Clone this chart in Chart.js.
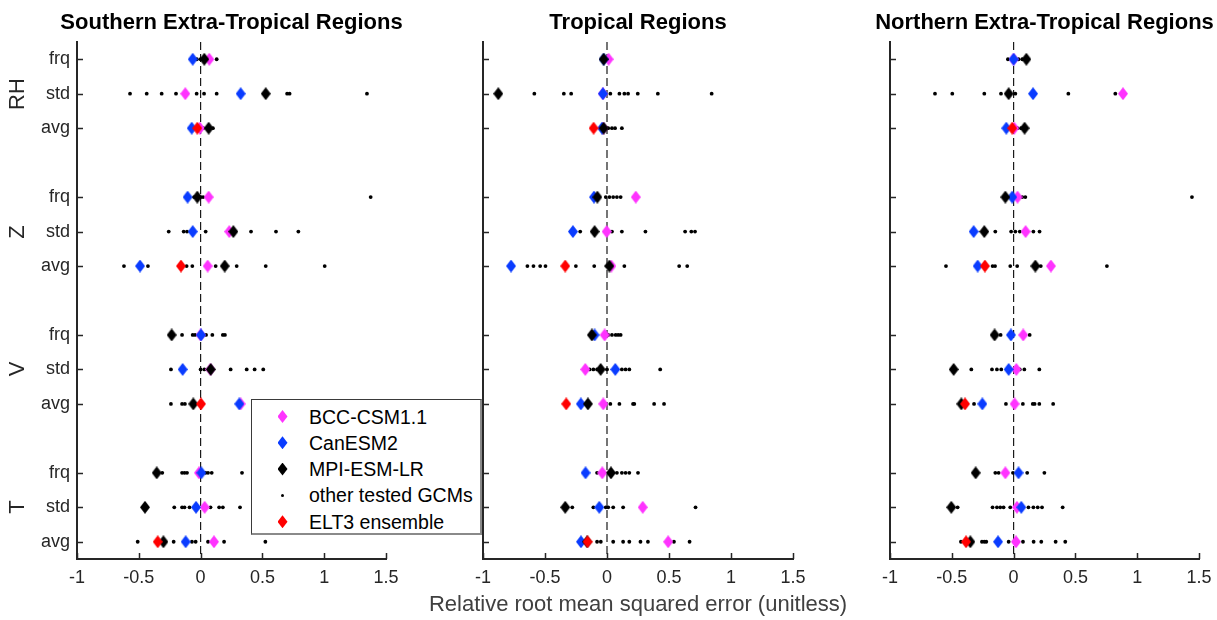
<!DOCTYPE html>
<html><head><meta charset="utf-8">
<script src="https://cdn.jsdelivr.net/npm/chart.js@4.4.1/dist/chart.umd.min.js"></script>
<style>
html,body{margin:0;padding:0;background:#fff;}
body{width:1217px;height:620px;position:relative;overflow:hidden;font-family:"Liberation Sans",Arial,Helvetica,sans-serif;}
canvas.pane{position:absolute;top:0;}
.title{position:absolute;top:10px;line-height:24px;font-weight:bold;font-size:22px;color:#000;white-space:nowrap;transform:translateX(-50%);}
.glabel{position:absolute;font-size:22px;color:#262626;line-height:22px;white-space:nowrap;transform:translate(-50%,-50%) rotate(-90deg);}
.xlabel{position:absolute;left:638px;top:592px;line-height:24px;font-size:22px;color:#404040;white-space:nowrap;transform:translateX(-50%);}
#legend{position:absolute;left:251px;top:399px;width:228px;height:133px;border:1px solid #3a3a3a;border-right:2px solid #8a8a8a;border-bottom:2px solid #8a8a8a;background:#fff;}
.lrow{position:absolute;left:0;height:24px;line-height:24px;font-size:19.5px;color:#000;white-space:nowrap;}
.lrow span{position:absolute;left:57px;top:-12px;}
.lsym{position:absolute;}
</style>
</head><body>
<canvas id="c1" class="pane" width="408" height="620" style="left:0px"></canvas>
<canvas id="c2" class="pane" width="407" height="620" style="left:408px"></canvas>
<canvas id="c3" class="pane" width="406" height="620" style="left:815px"></canvas>
<div id="overlay"></div>
<div id="legend"></div>
<script>
// ---------------- data ----------------
const rowNames = ['frq','std','avg','frq','std','avg','frq','std','avg','frq','std','avg'];
const rowPos = [1,2,3,5,6,7,9,10,11,13,14,15];
const groupNames = ['RH','Z','V','T'];
const groupPos = [2,6,10,14];
const xTicks = [-1,-0.5,0,0.5,1,1.5];
const xTickLabels = ['-1','-0.5','0','0.5','1','1.5'];
const panelTitles = ['Southern Extra-Tropical Regions','Tropical Regions','Northern Extra-Tropical Regions'];
const xAxisTitle = 'Relative root mean squared error (unitless)';
const seriesNames = ['BCC-CSM1.1','CanESM2','MPI-ESM-LR','other tested GCMs','ELT3 ensemble'];

// Southern Extra-Tropical
const setBCC = [0.07,-0.124,-0.005, 0.065,0.232,0.057, 0.0,0.08,0.324, -0.013,0.033,0.108];
const setCan = [-0.064,0.324,-0.072, -0.105,-0.064,-0.49, 0.003,-0.145,0.313, 0.006,-0.037,-0.121];
const setMPI = [0.03,0.527,0.065, -0.027,0.265,0.195, -0.234,0.082,-0.059, -0.355,-0.45,-0.301];
const setELT = [null,null,-0.027, null,null,-0.159, null,null,0.003, null,null,-0.347];
const setOther = [
  [-0.03,0.0,0.05,0.13],
  [-0.571,-0.436,-0.315,-0.199,-0.032,0.028,0.13,0.70,0.72,1.346],
  [-0.04,0.02,0.10],
  [-0.05,0.0,0.02,1.376],
  [-0.258,-0.137,-0.11,0.041,0.408,0.61,0.791],
  [-0.62,-0.426,-0.113,-0.067,0.122,0.292,0.527,1.004],
  [-0.15,-0.064,-0.045,0.044,0.095,0.18,0.197],
  [-0.24,0.0,0.03,0.243,0.373,0.437,0.507],
  [-0.24,-0.15,-0.127],
  [-0.31,-0.15,-0.13,-0.11,0.04,0.06,0.09,0.335],
  [-0.213,-0.15,-0.13,-0.09,0.08,0.15,0.18,0.319],
  [-0.509,-0.218,-0.07,-0.04,0.06,0.19,0.524]
];

// Tropical
const troBCC = [0.013,-0.033,-0.03, 0.232,-0.003,0.035, -0.019,-0.175,-0.03, -0.038,0.288,0.493];
const troCan = [-0.027,-0.033,-0.04, -0.105,-0.275,-0.774, -0.1,0.067,-0.211, -0.173,-0.062,-0.21];
const troMPI = [-0.027,-0.877,-0.027, -0.078,-0.1,0.019, -0.122,-0.051,-0.154, 0.032,-0.337,-0.16];
const troELT = [null,null,-0.108, null,null,-0.337, null,null,-0.329, null,null,-0.157];
const troOther = [
  [-0.01,0.01],
  [-0.586,-0.348,-0.289,0.027,0.10,0.14,0.17,0.248,0.41,0.844],
  [0.01,0.04,0.065,0.12],
  [-0.01,0.02,0.05,0.08,0.11],
  [-0.29,-0.216,0.04,0.12,0.31,0.63,0.68,0.71],
  [-0.642,-0.593,-0.539,-0.496,-0.251,-0.103,0.0,0.14,0.582,0.647],
  [0.01,0.04,0.07,0.09,0.11],
  [-0.14,-0.11,-0.08,0.0,0.12,0.15,0.18,0.429],
  [0.027,0.10,0.21,0.22,0.38,0.46],
  [-0.08,0.08,0.12,0.15,0.18,0.25],
  [-0.28,-0.11,-0.01,0.01,0.05,0.13,0.714],
  [-0.18,-0.08,-0.05,0.05,0.13,0.18,0.27,0.33,0.54,0.666]
];

// Northern Extra-Tropical
const netBCC = [0.0,0.885,0.005, 0.032,0.097,0.302, 0.078,0.022,0.008, -0.067,0.027,0.019];
const netCan = [0.0,0.157,-0.059, -0.011,-0.323,-0.291, -0.022,-0.04,-0.253, 0.04,0.062,-0.126];
const netMPI = [0.103,-0.04,0.089, -0.067,-0.237,0.176, -0.154,-0.485,-0.423, -0.307,-0.504,-0.35];
const netELT = [null,null,-0.011, null,null,-0.232, null,null,-0.393, null,null,-0.385];
const netOther = [
  [-0.046,0.04,0.07],
  [-0.636,-0.496,-0.237,-0.102,0.014,0.443,0.823],
  [0.03,0.06],
  [0.07,0.095,1.443],
  [-0.148,-0.02,0.014,0.05,0.16,0.21],
  [-0.547,-0.17,-0.15,-0.027,0.029,0.22,0.755],
  [-0.105,0.13],
  [-0.342,-0.175,-0.135,-0.1,0.05,0.087,0.208],
  [-0.32,-0.062,0.075,0.155,0.17,0.208,0.32],
  [-0.148,-0.121,-0.005,0.11,0.249],
  [-0.453,-0.17,-0.135,-0.108,-0.081,-0.027,0.12,0.16,0.195,0.23,0.397],
  [-0.426,-0.256,-0.237,-0.221,-0.04,0.076,0.162,0.224,0.34,0.418]
];

// ---------------- styling ----------------
const COL = {bcc:'#ff33ff', can:'#0a3cff', mpi:'#000000', elt:'#ff0000', other:'#000000', axis:'#262626'};
Chart.defaults.font.family = '"Liberation Sans", Arial, Helvetica, sans-serif';

function diamond(color){
  const c = document.createElement('canvas');
  c.width = 10; c.height = 13;
  const g = c.getContext('2d');
  g.fillStyle = color;
  g.beginPath(); g.moveTo(5,0); g.lineTo(10,6.5); g.lineTo(5,13); g.lineTo(0,6.5); g.closePath(); g.fill();
  return c;
}
const markers = {bcc:diamond(COL.bcc), can:diamond(COL.can), mpi:diamond(COL.mpi), elt:diamond(COL.elt)};

function toPoints(vals){
  const out = [];
  vals.forEach((v,i)=>{ if(v!==null && v!==undefined) out.push({x:v, y:rowPos[i]}); });
  return out;
}
function otherPoints(rows){
  const out = [];
  rows.forEach((r,i)=> r.forEach(v=> out.push({x:v, y:rowPos[i]})));
  return out;
}

const insideTicks = {
  id:'insideTicks',
  afterDraw(chart){
    const {ctx, chartArea:a, scales:{x,y}} = chart;
    ctx.save();
    ctx.strokeStyle = COL.axis; ctx.lineWidth = 1.5;
    ctx.beginPath();
    y.ticks.forEach(t=>{ const py = Math.round(y.getPixelForValue(t.value))+0.5; ctx.moveTo(a.left, py); ctx.lineTo(a.left+6, py); });
    x.ticks.forEach(t=>{ const px = Math.round(x.getPixelForValue(t.value))+0.5; ctx.moveTo(px, a.bottom); ctx.lineTo(px, a.bottom-6); });
    ctx.stroke();
    ctx.restore();
  }
};

function makePanel(id, yWidth, rightPad, showYLabels, bcc, can, mpi, elt, other){
  const datasets = [
    {label:seriesNames[4], data:toPoints(elt), pointStyle:markers.elt, pointRadius:5, backgroundColor:COL.elt, borderColor:COL.elt},
    {label:seriesNames[2], data:toPoints(mpi), pointStyle:markers.mpi, pointRadius:5, backgroundColor:COL.mpi, borderColor:COL.mpi},
    {label:seriesNames[1], data:toPoints(can), pointStyle:markers.can, pointRadius:5, backgroundColor:COL.can, borderColor:COL.can},
    {label:seriesNames[0], data:toPoints(bcc), pointStyle:markers.bcc, pointRadius:5, backgroundColor:COL.bcc, borderColor:COL.bcc},
    {label:seriesNames[3], data:otherPoints(other), pointStyle:'circle', pointRadius:1.9, borderWidth:0, backgroundColor:COL.other, borderColor:COL.other},
    {label:'zero', data:[{x:0,y:0.5},{x:0,y:15.5}], showLine:true, pointRadius:0, borderColor:'#1a1a1a', borderWidth:1.2, borderDash:[8,4]}
  ];
  return new Chart(document.getElementById(id), {
    type:'scatter',
    data:{datasets},
    plugins:[insideTicks],
    options:{
      responsive:false, animation:false, devicePixelRatio:1,
      layout:{padding:{top:42, right:rightPad, bottom:0, left:0}},
      plugins:{legend:{display:false}, tooltip:{enabled:false}, title:{display:false}},
      scales:{
        x:{
          type:'linear', min:-1, max:1.5,
          afterBuildTicks(s){ s.ticks = xTicks.map(v=>({value:v})); },
          afterFit(s){ s.height = 61; },
          ticks:{callback:(v,i)=> xTickLabels[i], color:COL.axis, font:{size:18}, padding:8, maxRotation:0, autoSkip:false},
          grid:{display:true, drawOnChartArea:false, drawTicks:false},
          border:{display:true, color:COL.axis, width:2}
        },
        y:{
          type:'linear', min:0.5, max:15.5, reverse:true,
          afterBuildTicks(s){ s.ticks = rowPos.map(v=>({value:v})); },
          afterFit(s){ s.width = yWidth; },
          ticks:{callback:(v,i)=> showYLabels ? rowNames[i] : '', color:COL.axis, font:{size:18}, padding:7, autoSkip:false},
          grid:{display:true, drawOnChartArea:false, drawTicks:false},
          border:{display:true, color:COL.axis, width:2}
        }
      }
    }
  });
}

const ch1 = makePanel('c1', 77, 22, true, setBCC, setCan, setMPI, setELT, setOther);
const ch2 = makePanel('c2', 75, 22, false, troBCC, troCan, troMPI, troELT, troOther);
const ch3 = makePanel('c3', 75, 22, false, netBCC, netCan, netMPI, netELT, netOther);

// ---------------- text overlay ----------------
const overlay = document.getElementById('overlay');
const canvLeft = [0,408,815];
[ch1,ch2,ch3].forEach((ch,i)=>{
  const a = ch.chartArea;
  const d = document.createElement('div');
  d.className = 'title';
  d.textContent = panelTitles[i];
  d.style.left = (canvLeft[i] + (a.left + a.right)/2) + 'px';
  overlay.appendChild(d);
});
groupNames.forEach((g,i)=>{
  const d = document.createElement('div');
  d.className = 'glabel';
  d.textContent = g;
  d.style.left = '17px';
  d.style.top = ch1.scales.y.getPixelForValue(groupPos[i]) + 'px';
  overlay.appendChild(d);
});
const xl = document.createElement('div');
xl.className = 'xlabel'; xl.textContent = xAxisTitle;
overlay.appendChild(xl);

// legend
const legend = document.getElementById('legend');
const legendOrder = [
  {name:seriesNames[0], kind:'d', color:COL.bcc},
  {name:seriesNames[1], kind:'d', color:COL.can},
  {name:seriesNames[2], kind:'d', color:COL.mpi},
  {name:seriesNames[3], kind:'o', color:COL.other},
  {name:seriesNames[4], kind:'d', color:COL.elt}
];
legendOrder.forEach((e,i)=>{
  const row = document.createElement('div');
  row.className = 'lrow';
  const cy = 16.5 + i*26.3;
  row.style.top = cy + 'px';
  const sym = document.createElement('div');
  sym.className = 'lsym';
  if(e.kind==='d'){
    sym.style.cssText = 'left:25.5px;top:-6.5px;width:10px;height:13px;background:'+e.color+';clip-path:polygon(50% 0,100% 50%,50% 100%,0 50%);';
  } else {
    sym.style.cssText = 'left:28.6px;top:-1.9px;width:3.8px;height:3.8px;border-radius:50%;background:'+e.color+';';
  }
  const sp = document.createElement('span');
  sp.textContent = e.name;
  row.appendChild(sym); row.appendChild(sp);
  legend.appendChild(row);
});
</script>
</body></html>
